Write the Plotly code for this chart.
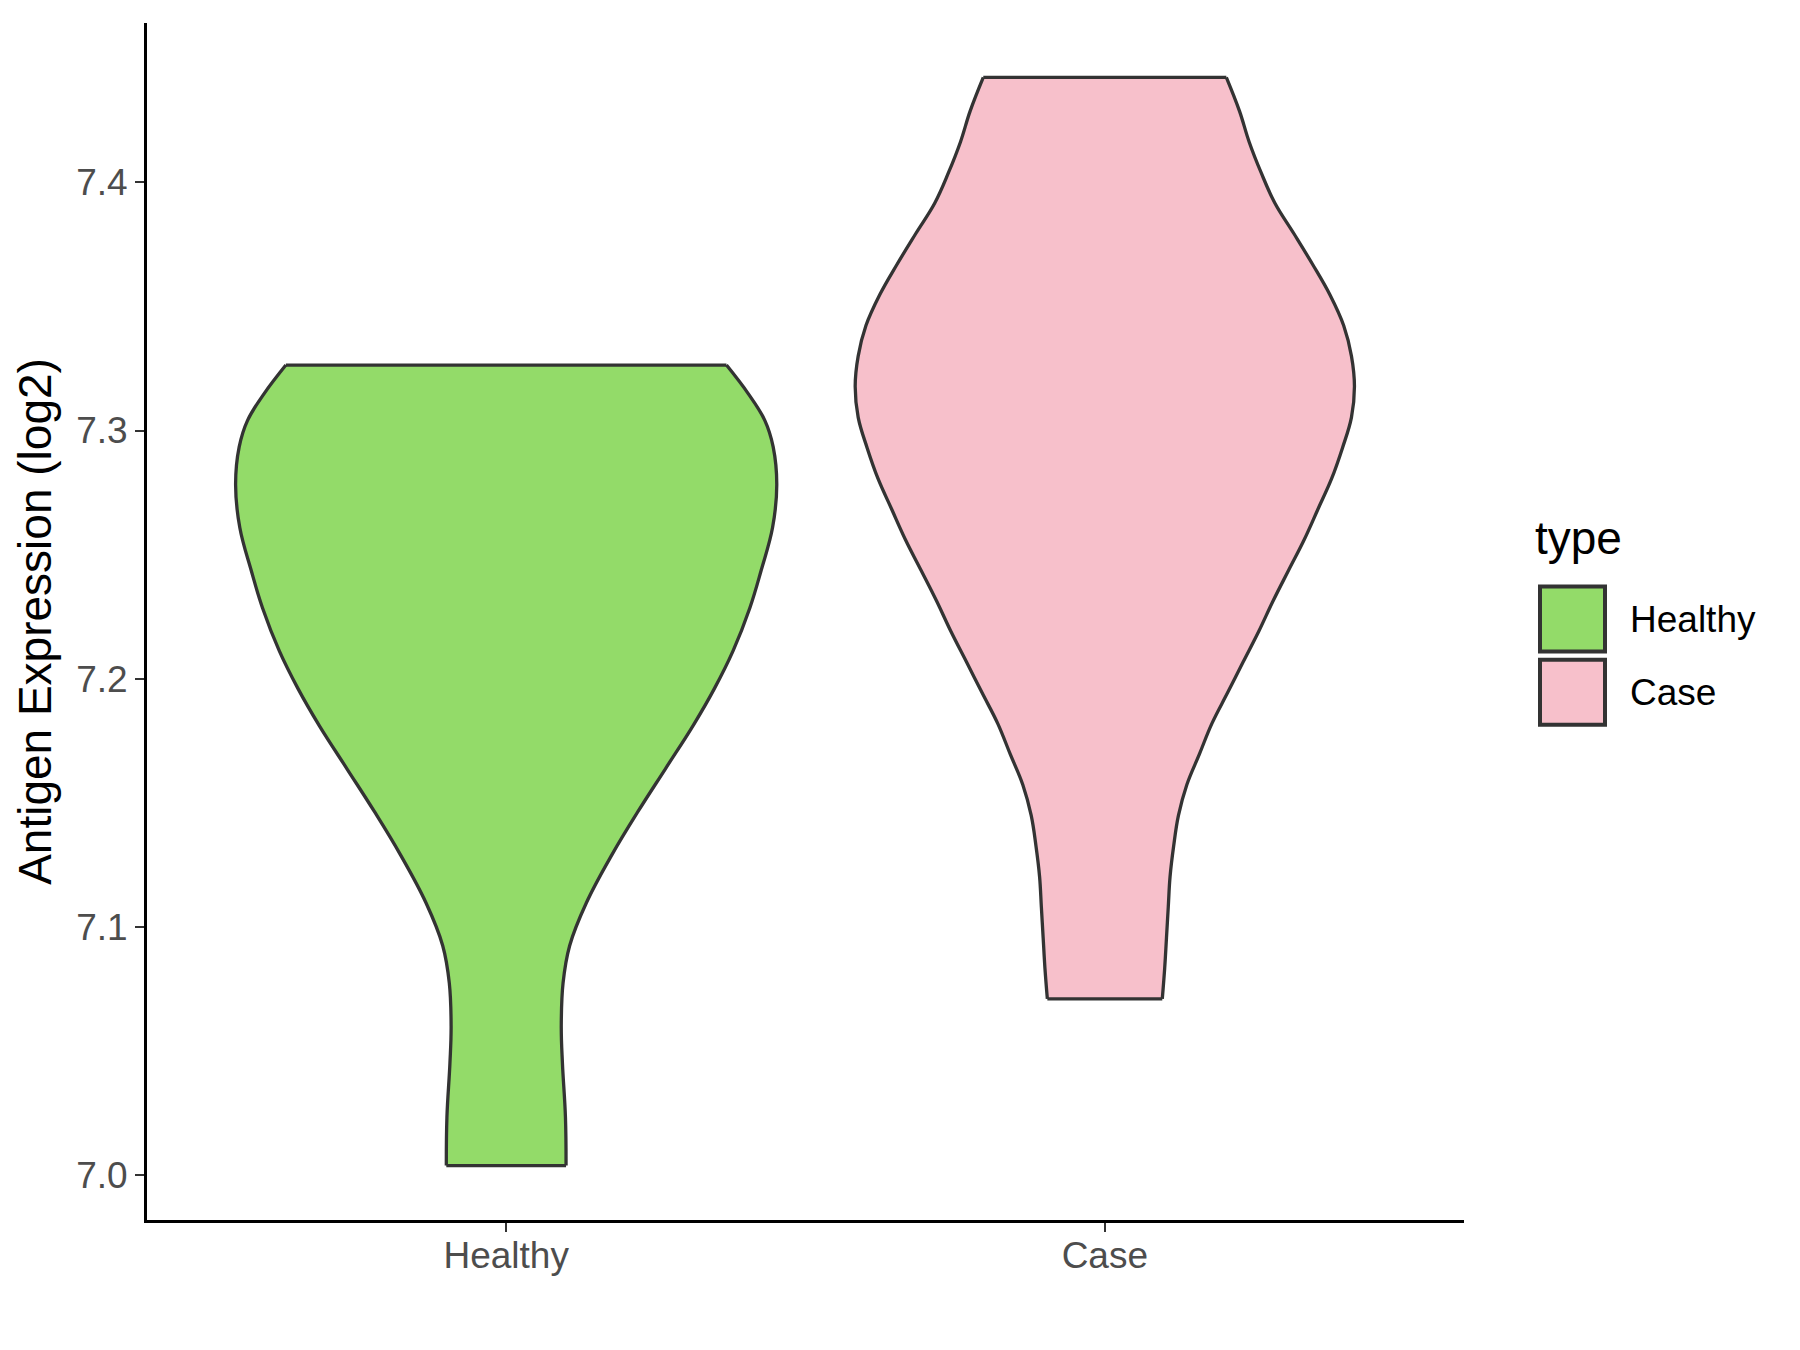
import plotly.graph_objects as go

# violin outlines: y level -> half width (in category units)
categories = ["Healthy", "Case"]
fill_colors = ["#93DB69", "#F7C0CB"]

healthy_y = [7.3264, 7.3150, 7.3041, 7.2934, 7.2782, 7.2609, 7.2437, 7.2285,
             7.2112, 7.1961, 7.1810, 7.1637, 7.1464, 7.1292, 7.1097, 7.0924,
             7.0773, 7.0600, 7.0449, 7.0233, 7.0038]
healthy_w = [0.368, 0.404, 0.432, 0.446, 0.452, 0.445, 0.426, 0.407,
             0.379, 0.348, 0.312, 0.266, 0.220, 0.177, 0.134, 0.106,
             0.095, 0.092, 0.094, 0.099, 0.100]

case_y = [7.4423, 7.4287, 7.4164, 7.4040, 7.3917, 7.3793, 7.3670, 7.3547,
          7.3423, 7.3300, 7.3177, 7.3053, 7.2930, 7.2807, 7.2683, 7.2560,
          7.2437, 7.2313, 7.2190, 7.2067, 7.1943, 7.1820, 7.1696, 7.1573,
          7.1449, 7.1326, 7.1203, 7.1080, 7.0956, 7.0833, 7.0710]
case_w = [0.203, 0.225, 0.241, 0.261, 0.284, 0.316, 0.347, 0.376,
          0.399, 0.412, 0.417, 0.412, 0.397, 0.379, 0.356, 0.333,
          0.307, 0.281, 0.257, 0.231, 0.205, 0.179, 0.158, 0.137,
          0.123, 0.115, 0.109, 0.106, 0.103, 0.100, 0.096]

y_ticks = [7.0, 7.1, 7.2, 7.3, 7.4]

OUTLINE = "#333333"
LW = 3.3
SMOOTH = 1.1
FONT = "Liberation Sans, Arial, sans-serif"
W, H = 1800, 1350
OFF = 8  # the page body adds an 8px margin

# plot area in target pixels
PX0, PX1, PY0, PY1 = 147, 1464, 23, 1220

fig = go.Figure()
for i, (ys, ws) in enumerate([(healthy_y, healthy_w), (case_y, case_w)], start=1):
    left = [i - w for w in ws]
    right = [i + w for w in ws]
    col = fill_colors[i - 1]
    # fill between the two smoothed edges
    fig.add_trace(go.Scatter(x=left, y=ys, mode="lines",
                             line=dict(width=0, shape="spline", smoothing=SMOOTH),
                             showlegend=False, hoverinfo="skip"))
    fig.add_trace(go.Scatter(x=right, y=ys, mode="lines", fill="tonextx",
                             fillcolor=col,
                             line=dict(width=0, shape="spline", smoothing=SMOOTH),
                             showlegend=False, hoverinfo="skip"))
for i, (ys, ws) in enumerate([(healthy_y, healthy_w), (case_y, case_w)], start=1):
    left = [i - w for w in ws]
    right = [i + w for w in ws]
    for xs in (left, right):
        fig.add_trace(go.Scatter(x=xs, y=ys, mode="lines",
                                 line=dict(color=OUTLINE, width=LW,
                                           shape="spline", smoothing=SMOOTH),
                                 showlegend=False, hoverinfo="skip"))
    # flat trimmed ends
    fig.add_trace(go.Scatter(
        x=[left[0], right[0], None, left[-1], right[-1]],
        y=[ys[0], ys[0], None, ys[-1], ys[-1]],
        mode="lines", line=dict(color=OUTLINE, width=LW),
        showlegend=False, hoverinfo="skip"))

all_y = healthy_y + case_y
lo, hi = min(all_y), max(all_y)
pad = 0.05 * (hi - lo)

fig.update_layout(
    width=W, height=H,
    paper_bgcolor="white", plot_bgcolor="white",
    margin=dict(l=PX0 - OFF, r=W - PX1 + OFF, t=PY0 - OFF, b=H - PY1 + OFF),
    font=dict(family=FONT, size=37, color="#4D4D4D"),
    showlegend=False,
)
fig.update_xaxes(
    range=[0.4, 2.6], tickvals=[1, 2], ticktext=categories,
    showline=True, linecolor="black", linewidth=2.8,
    ticks="outside", ticklen=9, tickwidth=2.2, tickcolor="#333333",
    ticklabelstandoff=-8,
    showgrid=False, zeroline=False,
    tickfont=dict(size=37, color="#4D4D4D"),
)
fig.update_yaxes(
    range=[lo - pad, hi + pad], tickvals=y_ticks,
    ticktext=[f"{v:.1f}" for v in y_ticks],
    showline=True, linecolor="black", linewidth=2.8,
    ticks="outside", ticklen=9, tickwidth=2.2, tickcolor="#333333",
    showgrid=False, zeroline=False,
    tickfont=dict(size=37, color="#4D4D4D"),
    title=dict(text="Antigen Expression (log2)", standoff=11,
               font=dict(size=46, color="black")),
)


def px(x):
    return (x - PX0) / (PX1 - PX0)


def py(y):
    return (PY1 - y) / (PY1 - PY0)


# legend drawn by hand to match ggplot's large keys
fig.add_annotation(x=px(1533), y=py(538), xref="paper", yref="paper",
                   text="type", showarrow=False, xanchor="left", yanchor="middle",
                   font=dict(size=46, color="black"))
key_top = [586.5, 659.8]
for name, col, top in zip(categories, fill_colors, key_top):
    fig.add_shape(type="rect", xref="paper", yref="paper",
                  x0=px(1540), x1=px(1605), y0=py(top), y1=py(top + 65),
                  fillcolor=col, line=dict(color=OUTLINE, width=4))
    fig.add_annotation(x=px(1628), y=py(top + 33), xref="paper", yref="paper",
                       text=name, showarrow=False, xanchor="left", yanchor="middle",
                       font=dict(size=37, color="black"))

fig.write_html("out.html")
